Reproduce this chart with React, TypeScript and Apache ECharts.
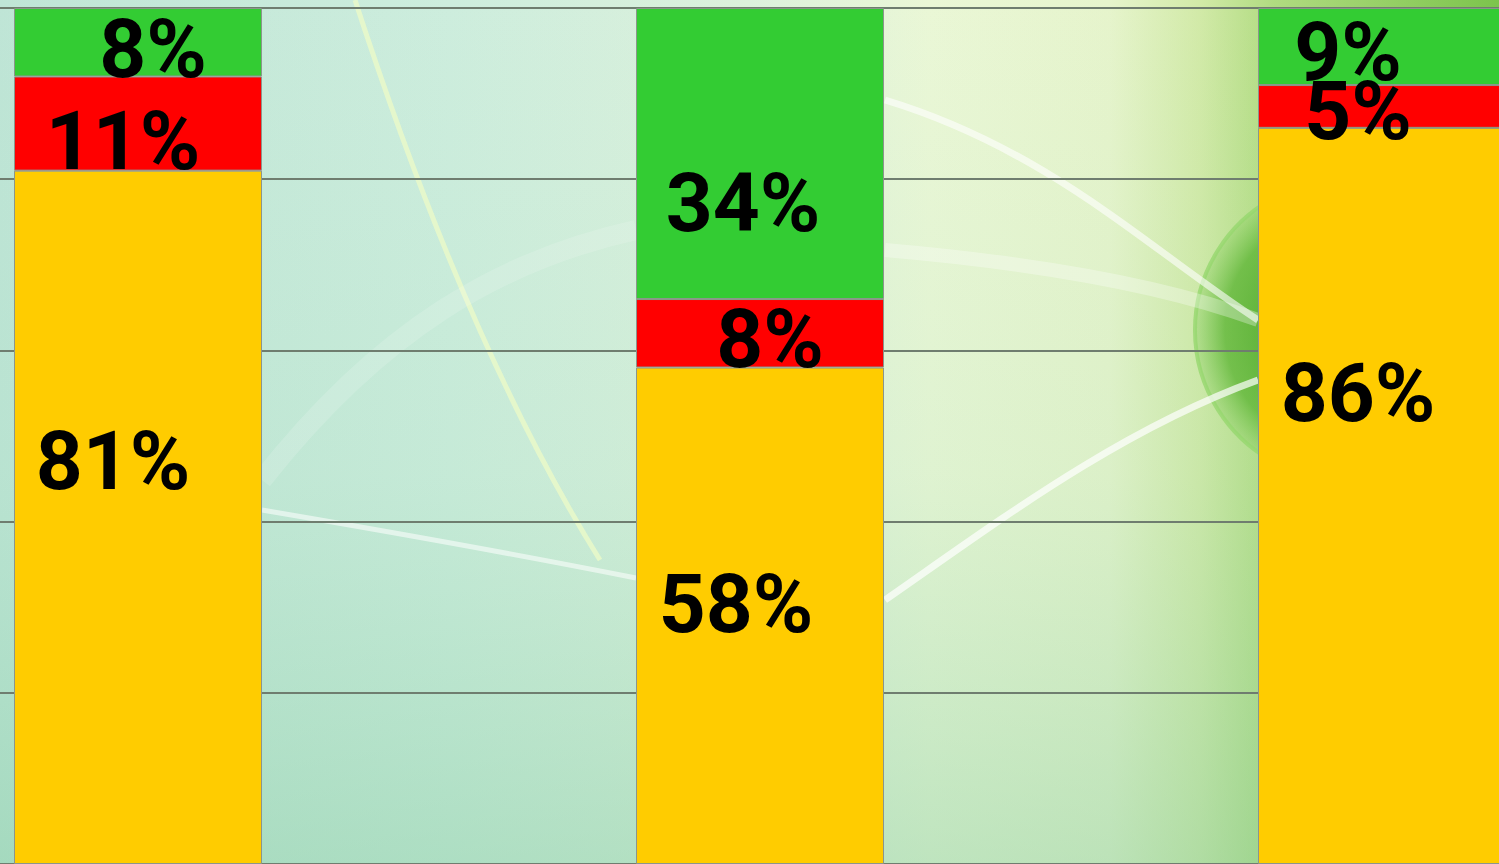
import React, { useEffect, useRef } from "react";
import * as echarts from "echarts";

const categories = ["Group 1", "Group 2", "Group 3"];
const yellowValues = [81, 58, 86];
const redValues = [11, 8, 5];
const greenValues = [8, 34, 9];
const yTicks = [0, 20, 40, 60, 80, 100];

// label nudges (layout only), per category
const yellowOffsets = [[-25, -56], [-24, -12], [-24, -103]];
const redOffsets = [[-15, 17], [10, 6], [-24, 5]];
const greenOffsets = [[15, 7], [-17, 49], [-34, 5]];

const OX = 173; // chart canvas starts 173px left of the visible page
const CW = 1866;

export default function App() {
  const ref = useRef<HTMLDivElement>(null);
  useEffect(() => {
    document.body.style.margin = "0";
    document.body.style.overflow = "hidden";
    document.documentElement.style.overflow = "hidden";
    const chart = echarts.init(ref.current!, null, { renderer: "svg" });
    const labelBase = {
      show: true,
      position: "inside",
      formatter: "{c}%",
      color: "#000",
      fontFamily: "Roboto",
      fontWeight: "bold",
      fontSize: 82,
    };
    const mk = (name: string, vals: number[], color: string, offs: number[][]) => ({
      name,
      type: "bar",
      stack: "total",
      barWidth: 248,
      itemStyle: { color, borderColor: "#8b968b", borderWidth: 1 },
      label: labelBase,
      data: vals.map((v, i) => ({ value: v, label: { offset: offs[i] } })),
      z: 3,
    });
    const H = 864;
    const bz = (x1: number, y1: number, cpx1: number, cpy1: number, cpx2: number, cpy2: number, x2: number, y2: number, stroke: string, lineWidth: number) => ({
      type: "bezierCurve", z: -17, silent: true,
      shape: { x1: x1 + OX, y1, x2: x2 + OX, y2, cpx1: cpx1 + OX, cpy1, cpx2: cpx2 + OX, cpy2 },
      style: { stroke, lineWidth, fill: "none" },
    });
    chart.setOption({
      animation: false,
      graphic: [
        {
          type: "rect", z: -20, silent: true,
          shape: { x: OX, y: 0, width: 1499, height: H },
          style: {
            fill: new echarts.graphic.LinearGradient(0, 0, 1, 0, [
              { offset: 0, color: "#bfe5d6" },
              { offset: 0.3, color: "#cdeddd" },
              { offset: 0.5, color: "#dcf1dc" },
              { offset: 0.62, color: "#eaf7d6" },
              { offset: 0.74, color: "#e6f4cc" },
              { offset: 0.8, color: "#d2eaa8" },
              { offset: 0.85, color: "#b0db80" },
              { offset: 1, color: "#7cc44c" },
            ]),
          },
        },
        {
          type: "rect", z: -19, silent: true,
          shape: { x: OX, y: 0, width: 1499, height: H },
          style: {
            fill: new echarts.graphic.LinearGradient(0, 0, 0, 1, [
              { offset: 0, color: "rgba(150,215,180,0)" },
              { offset: 0.55, color: "rgba(140,210,170,0.12)" },
              { offset: 1, color: "rgba(125,200,155,0.4)" },
            ]),
          },
        },
        {
          type: "circle", z: -18, silent: true,
          shape: { cx: 1345 + OX, cy: 330, r: 150 },
          style: {
            fill: new echarts.graphic.RadialGradient(0.5, 0.5, 0.5, [
              { offset: 0, color: "rgba(50,150,20,0.9)" },
              { offset: 0.8, color: "rgba(90,180,50,0.75)" },
              { offset: 1, color: "rgba(120,200,80,0.3)" },
            ]),
            stroke: "rgba(150,215,110,0.8)", lineWidth: 4,
          },
        },
        bz(885, 100, 1050, 150, 1150, 250, 1258, 320, "rgba(255,255,255,0.6)", 7),
        bz(1258, 380, 1120, 430, 1000, 520, 885, 600, "rgba(255,255,255,0.7)", 7),
        bz(355, 0, 420, 200, 500, 400, 600, 560, "rgba(235,250,200,0.8)", 5),
        bz(262, 510, 380, 530, 520, 555, 636, 578, "rgba(255,255,255,0.55)", 5),
        bz(262, 480, 380, 330, 500, 260, 636, 230, "rgba(255,255,255,0.15)", 20),
        bz(885, 250, 1000, 260, 1150, 280, 1258, 320, "rgba(255,255,255,0.3)", 14),
      ],
      grid: { left: 0, top: 8, width: CW, height: 860, containLabel: false },
      xAxis: {
        type: "category",
        data: categories,
        axisLine: { show: false },
        axisTick: { show: false },
        axisLabel: { show: false },
      },
      yAxis: {
        type: "value",
        min: yTicks[0],
        max: yTicks[yTicks.length - 1],
        interval: 20,
        axisLine: { show: false },
        axisTick: { show: false },
        axisLabel: { show: false },
        splitLine: { show: true, lineStyle: { color: "#6f7d6f", width: 2 } },
      },
      series: [
        mk("Yellow", yellowValues, "#ffcc00", yellowOffsets),
        mk("Red", redValues, "#ff0000", redOffsets),
        mk("Green", greenValues, "#33cc33", greenOffsets),
      ],
    });
    return () => chart.dispose();
  }, []);
  return (
    <div
      ref={ref}
      style={{ position: "absolute", left: -OX, top: 0, width: CW, height: 864 }}
    />
  );
}
